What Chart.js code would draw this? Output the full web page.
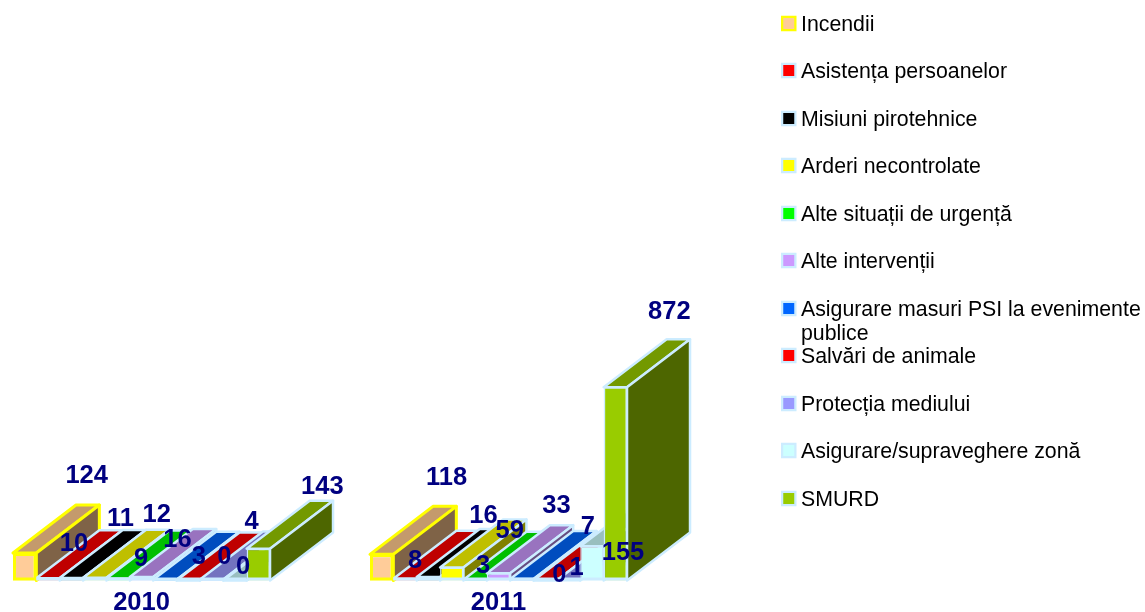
<!DOCTYPE html>
<html>
<head>
<meta charset="utf-8">
<style>html,body{margin:0;padding:0;background:#fff;overflow:hidden}canvas{display:block;margin-left:-37px}</style>
<script src="https://cdn.jsdelivr.net/npm/chart.js@4"></script>
</head>
<body>
<canvas id="c" width="1182" height="612"></canvas>
<script>
const years = ['2010', '2011'];
const seriesNames = ['Incendii', 'Asistența persoanelor', 'Misiuni pirotehnice', 'Arderi necontrolate',
  'Alte situații de urgență', 'Alte intervenții', 'Asigurare masuri PSI la evenimente publice',
  'Salvări de animale', 'Protecția mediului', 'Asigurare/supraveghere zonă', 'SMURD'];
const values2010 = [124, 10, 11, 12, 9, 16, 3, 0, 4, 0, 143];
const values2011 = [118, 8, 16, 59, 3, 33, 7, 0, 1, 155, 872];

// styling
const frontColors = ['#ffcc99', '#ff0000', '#000000', '#ffff00', '#00ff00', '#cc99ff', '#0066ff', '#ff0000', '#9999ff', '#ccffff', '#99cc00'];
const topColors   = ['#c49a6c', '#bf0000', '#000000', '#bfbf00', '#00bf00', '#9973bf', '#004dbf', '#bf0000', '#7373bf', '#99bfbf', '#739900'];
const sideColors  = ['#7f6347', '#800000', '#000000', '#808000', '#008000', '#664d80', '#003380', '#800000', '#4d4d80', '#668080', '#4d6600'];
const edgeColors  = ['#ffff00', '#ccecff', '#ccecff', '#ccecff', '#ccecff', '#ccecff', '#ccecff', '#ccecff', '#ccecff', '#ccecff', '#ccecff'];
const edgeWidths  = [3, 2.5, 2.5, 2.5, 2.5, 2.5, 2.5, 2.5, 2.5, 2.5, 2.5];
const frontBorders = [3, 1.5, 1.5, 1.5, 1.5, 1.5, 1.5, 1.5, 1.5, 1.5, 1.5];
const depth = {dx: 63, dy: -48};
const labelShift2010 = [[62,-78],[26,-35],[49,-60],[62,-64],[23,-21],[36,-38],[34,-24],[36,-25],[40,-59],[8,-15],[64,-63]];
const labelShift2011 = [[65,-77],[10,-19],[55,-62],[58,-37],[8,-15],[58,-68],[66,-53],[14,-7],[8,-13],[31,6],[54,-76]];
const legendRows = [
  {y: 24, lines: ['Incendii']},
  {y: 71, lines: ['Asistența persoanelor']},
  {y: 119, lines: ['Misiuni pirotehnice']},
  {y: 166, lines: ['Arderi necontrolate']},
  {y: 214, lines: ['Alte situații de urgență']},
  {y: 261, lines: ['Alte intervenții']},
  {y: 309, lines: ['Asigurare masuri PSI la evenimente', 'publice']},
  {y: 356, lines: ['Salvări de animale']},
  {y: 404, lines: ['Protecția mediului']},
  {y: 451, lines: ['Asigurare/supraveghere zonă']},
  {y: 499, lines: ['SMURD']}
];
const legendLeft = 818;  // canvas starts 37px left of the window
const FONT = '"Liberation Sans", Arial, sans-serif';

function face(ctx, pts, fill, edge, w) {
  ctx.beginPath();
  pts.forEach((p, i) => i ? ctx.lineTo(p[0], p[1]) : ctx.moveTo(p[0], p[1]));
  ctx.closePath();
  ctx.fillStyle = fill;
  ctx.fill();
  ctx.strokeStyle = edge;
  ctx.lineWidth = w;
  ctx.lineJoin = 'round';
  ctx.stroke();
}

const depthFaces = {
  id: 'depthFaces',
  beforeDatasetsDraw(chart) {
    const ctx = chart.ctx;
    ctx.save();
    chart.data.datasets.forEach((ds, i) => {
      chart.getDatasetMeta(i).data.forEach(bar => {
        const p = bar.getProps(['x', 'y', 'base', 'width'], true);
        const l = p.x - p.width / 2, r = p.x + p.width / 2, t = p.y, b = p.base;
        const {dx, dy} = depth;
        face(ctx, [[l, t], [r, t], [r + dx, t + dy], [l + dx, t + dy]], topColors[i], edgeColors[i], edgeWidths[i]);
        face(ctx, [[r, t], [r + dx, t + dy], [r + dx, b + dy], [r, b]], sideColors[i], edgeColors[i], edgeWidths[i]);
      });
    });
    ctx.restore();
  },
  afterDatasetsDraw(chart) {
    const ctx = chart.ctx;
    ctx.save();
    // bottom edge band of every front face
    ctx.lineWidth = 3;
    chart.data.datasets.forEach((ds, i) => {
      chart.getDatasetMeta(i).data.forEach(bar => {
        const p = bar.getProps(['x', 'base', 'width'], true);
        ctx.strokeStyle = edgeColors[i];
        ctx.beginPath();
        ctx.moveTo(p.x - p.width / 2, p.base - 1.5);
        ctx.lineTo(p.x + p.width / 2, p.base - 1.5);
        ctx.stroke();
      });
    });
    ctx.font = 'bold 25.5px ' + FONT;
    ctx.fillStyle = '#000080';
    ctx.textAlign = 'center';
    ctx.textBaseline = 'middle';
    const shifts = [labelShift2010, labelShift2011];
    chart.data.datasets.forEach((ds, i) => {
      chart.getDatasetMeta(i).data.forEach((bar, g) => {
        const p = bar.getProps(['x', 'y'], true);
        ctx.fillText(String(ds.data[g]), p.x + shifts[g][i][0], p.y + shifts[g][i][1] + 1);
      });
    });
    ctx.restore();
  },
  afterDraw(chart) {
    const ctx = chart.ctx;
    ctx.save();
    ctx.textBaseline = 'middle';
    ctx.textAlign = 'left';
    ctx.font = '21.3px ' + FONT;
    legendRows.forEach((row, i) => {
      ctx.fillStyle = edgeColors[i];
      ctx.fillRect(legendLeft, row.y - 8.25, 15.5, 15.5);
      ctx.fillStyle = frontColors[i];
      ctx.fillRect(legendLeft + 2.25, row.y - 6, 11, 11);
      ctx.fillStyle = '#000';
      row.lines.forEach((line, k) => ctx.fillText(line, legendLeft + 20, row.y + 1 + k * 24.5));
    });
    ctx.restore();
  }
};

new Chart(document.getElementById('c'), {
  type: 'bar',
  data: {
    labels: years,
    datasets: seriesNames.map((name, i) => ({
      label: name,
      data: [values2010[i], values2011[i]],
      backgroundColor: frontColors[i],
      borderColor: edgeColors[i],
      borderWidth: frontBorders[i],
      barPercentage: 1,
      categoryPercentage: 0.72
    }))
  },
  options: {
    responsive: false,
    animation: false,
    layout: {padding: {left: 0, right: 468, top: 359, bottom: 0}},
    plugins: {legend: {display: false}, title: {display: false}, tooltip: {enabled: false}},
    scales: {
      x: {
        grid: {display: false, drawTicks: false},
        border: {display: false},
        ticks: {color: '#000080', font: {family: FONT, size: 25.5, weight: 'bold'}, padding: 7.5, maxRotation: 0, autoSkip: false},
        afterFit(scale) { scale.height = 31.5; }
      },
      y: {display: false, min: 0, max: 1000}
    }
  },
  plugins: [depthFaces]
});
</script>
</body>
</html>
